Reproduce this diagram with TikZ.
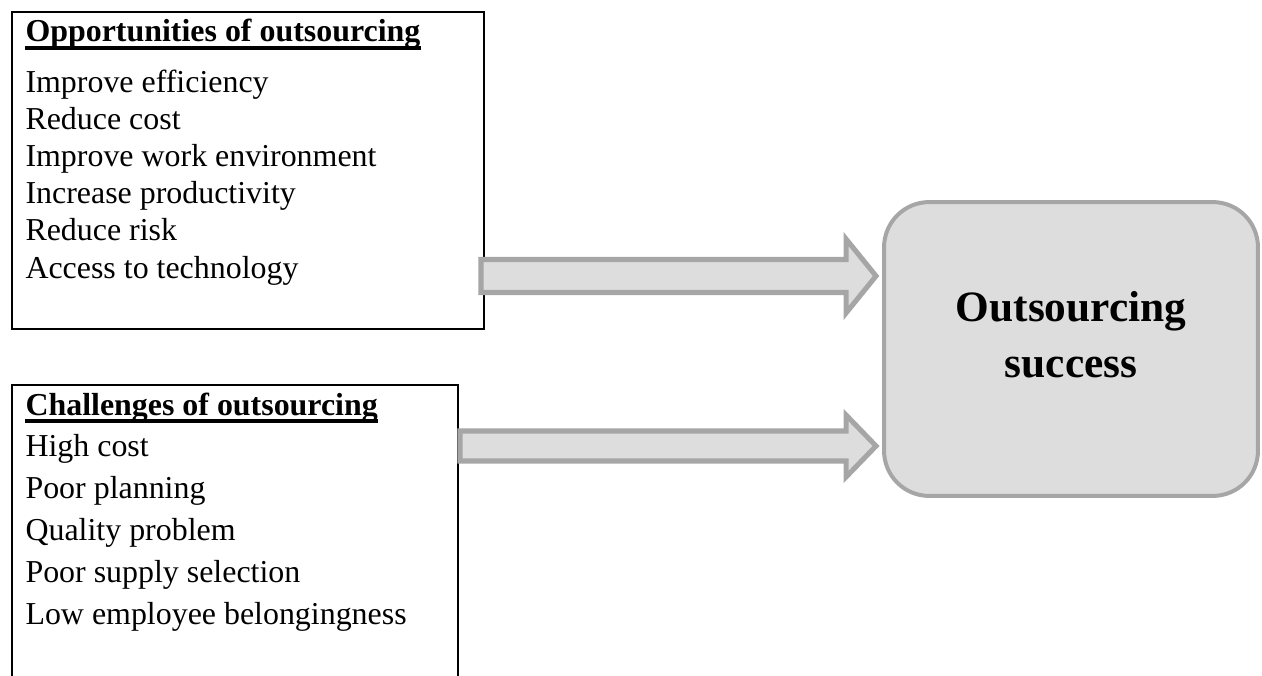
\documentclass[tikz,border=0pt]{standalone}
\usepackage{fontspec}
\setmainfont{Liberation Serif}
\usetikzlibrary{calc,fit}
\definecolor{arrfill}{RGB}{221,221,221}
\definecolor{arrline}{RGB}{166,166,166}

\begin{document}
\begin{tikzpicture}[x=0.376pt,y=-0.376pt,
	listbox/.style={draw=black,line width=0.75pt,inner sep=0pt},
	item/.style={anchor=base west,inner sep=0pt,font=\fontsize{12}{14}\selectfont},
	head/.style={item,font=\fontsize{12}{14}\selectfont\bfseries},
	uline/.style={line width=1.2pt},
	succbox/.style={draw=arrline,fill=arrfill,line width=1.5pt,rounded corners=17pt,
		minimum width=140.6pt,minimum height=110.5pt,inner sep=0pt},
	blockarr/.style={draw=arrline,fill=arrfill,line width=1.9pt,line join=miter}]
	\useasboundingbox (0,0) rectangle (1262,676);
	
	% list boxes
	\coordinate (opp-nw) at (12,12);
	\coordinate (opp-se) at (484,329);
	\node[listbox,fit=(opp-nw)(opp-se)] (opp) {};
	\coordinate (chl-nw) at (12,385);
	\coordinate (chl-se) at (458,700);
	\node[listbox,fit=(chl-nw)(chl-se)] (chl) {};
	
	\node[head] (opp-t) at (25,42) {Opportunities of outsourcing};
	\draw[uline] ($(opp-t.base west)+(0,6)$) -- ($(opp-t.base east)+(0,6)$);
	\foreach \t [count=\i] in {Improve efficiency,Reduce cost,Improve work environment,
		Increase productivity,Reduce risk,Access to technology}
	\node[item] (opp-\i) at (25,56+37*\i) {\t};
	
	\node[head] (chl-t) at (25,415) {Challenges of outsourcing};
	\draw[uline] ($(chl-t.base west)+(0,6)$) -- ($(chl-t.base east)+(0,6)$);
	\foreach \t [count=\i] in {High cost,Poor planning,Quality problem,
		Poor supply selection,Low employee belongingness}
	\node[item] (chl-\i) at (25,414+42*\i) {\t};
	
	% target
	\node[succbox] (succ) at (1071,349) {};
	\node[font=\fontsize{16.3}{21}\selectfont\bfseries,align=center,inner sep=0pt]
	(succ-txt) at (1071,335) {Outsourcing\\success};
	
	% block arrows
	\coordinate (oppout) at (481,276);
	\coordinate (chlout) at (460,446);
	\foreach \src/\sh/\hh in {oppout/16.5/37,chlout/15/31}{
		\coordinate (tip) at (succ.west |- \src);
		\draw[blockarr] ($(\src)+(0,-\sh)$) -- ($(tip)+(-36,-\sh)$) -- ($(tip)+(-36,-\hh)$)
		-- ($(tip)+(-6,0)$) -- ($(tip)+(-36,\hh)$) -- ($(tip)+(-36,\sh)$)
		-- ($(\src)+(0,\sh)$) -- cycle;}
\end{tikzpicture}
\end{document}
